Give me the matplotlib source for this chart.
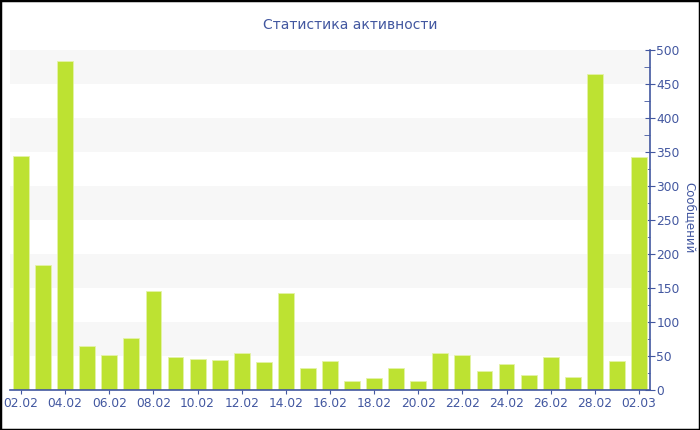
import matplotlib.pyplot as plt
from matplotlib.patches import Rectangle
from matplotlib.ticker import MultipleLocator

days = ['02.02', '03.02', '04.02', '05.02', '06.02', '07.02', '08.02', '09.02',
        '10.02', '11.02', '12.02', '13.02', '14.02', '15.02', '16.02', '17.02',
        '18.02', '19.02', '20.02', '21.02', '22.02', '23.02', '24.02', '25.02',
        '26.02', '27.02', '28.02', '01.03', '02.03']
messages = [344, 184, 484, 64, 51, 77, 145, 48, 45, 44, 55, 41, 142, 33, 42, 13,
            17, 33, 13, 54, 51, 28, 38, 22, 49, 19, 465, 43, 342]

blue = '#4257a0'
bar_color = '#bde232'

fig = plt.figure(figsize=(7, 4.3), dpi=100)
ax = fig.add_axes([10 / 700, 40 / 430, 640 / 700, 340 / 430])

x = list(range(len(days)))
ax.bar(x, messages, width=0.72, color=bar_color, edgecolor='#e4f3a8', linewidth=0.6, zorder=2)

# alternating light bands
for lo in range(50, 500, 100):
    ax.axhspan(lo, lo + 50, color='#f7f7f7', zorder=0, linewidth=0)

ax.set_xlim(-0.5, 28.5)
ax.set_ylim(0, 500)

ax.set_xticks(x[::2])
ax.set_xticklabels(days[::2])
ax.yaxis.tick_right()
ax.yaxis.set_major_locator(MultipleLocator(50))
ax.yaxis.set_minor_locator(MultipleLocator(25))

for s in ['top', 'left']:
    ax.spines[s].set_visible(False)
for s in ['bottom', 'right']:
    ax.spines[s].set_color(blue)
    ax.spines[s].set_linewidth(1.2)

ax.tick_params(axis='x', colors=blue, labelsize=8.8, length=3, pad=2)
ax.tick_params(axis='y', which='major', colors=blue, labelsize=8.8, length=7, direction='inout', pad=1)
ax.tick_params(axis='y', which='minor', colors=blue, length=4, direction='in')

# axis title on the far right, reading top to bottom
fig.text(690 / 700, 1 - 218 / 430, 'Сообщений', color=blue, fontsize=8.5,
         rotation=270, ha='center', va='center')
fig.text(0.5, 1 - 25 / 430, 'Статистика активности', color=blue, fontsize=10,
         ha='center', va='center')

# frame around the whole image
fig.patches.append(Rectangle((0, 0), 1, 1, transform=fig.transFigure, fill=False,
                             edgecolor='black', linewidth=2.5))

fig.savefig('out.png', dpi=100)
